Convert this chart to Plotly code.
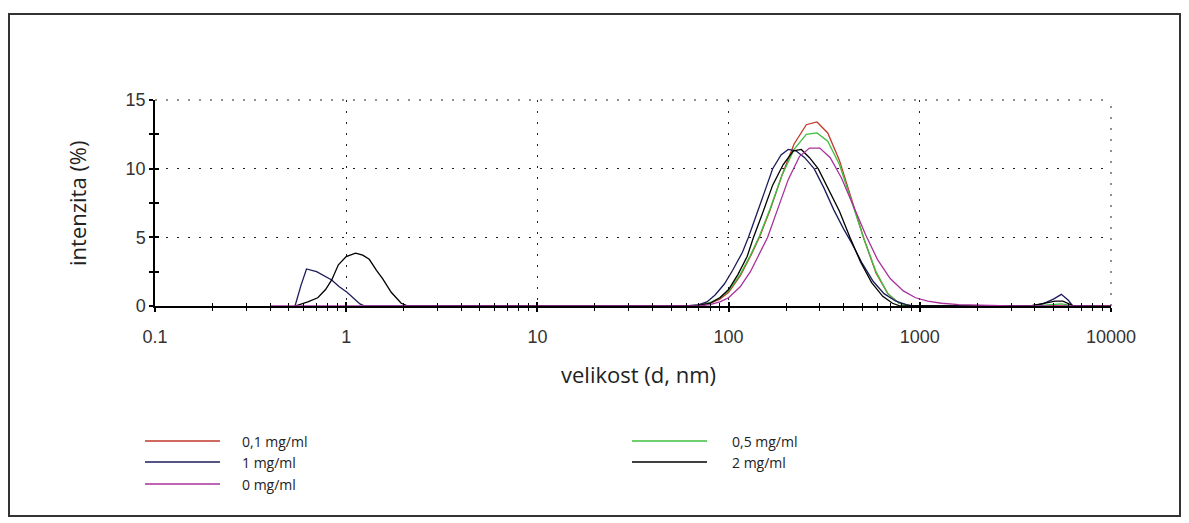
import plotly.graph_objects as go

# Size distribution by intensity (DLS), one trace per concentration
size_01 = [37, 60, 70, 80, 90, 100, 115, 130, 145, 165, 190, 220, 255, 290, 330, 380,
           440, 510, 590, 680, 780, 900, 10000]
int_01 = [0, 0, 0.05, 0.2, 0.5, 1.0, 2.2, 3.6, 5.0, 7.0, 9.5, 11.8, 13.2, 13.4, 12.6, 10.6,
          7.8, 4.9, 2.4, 0.9, 0.2, 0, 0]

size_05 = [37, 70, 80, 90, 100, 115, 130, 145, 165, 190, 220, 255, 290, 330, 380, 440,
           510, 590, 680, 780, 880, 4000, 4800, 5500, 6200, 6800, 10000]
int_05 = [0, 0.05, 0.25, 0.6, 1.1, 2.3, 3.7, 5.1, 7.1, 9.5, 11.4, 12.5, 12.6, 12.0, 10.3, 7.6,
          4.9, 2.5, 0.9, 0.2, 0, 0, 0.1, 0.15, 0.05, 0, 0]

size_1 = [0.54, 0.58, 0.62, 0.70, 0.84, 0.92, 1.01, 1.10, 1.18, 1.25,
          60, 70, 77, 85, 95, 105, 118, 127, 140, 155, 170, 188, 205, 225, 250, 280, 315,
          355, 400, 440, 500, 570, 650, 750, 850, 920, 3800, 4400, 5000, 5500, 6000, 6300, 10000]
int_1 = [0, 1.5, 2.7, 2.5, 1.9, 1.4, 1.0, 0.5, 0.15, 0,
         0, 0.1, 0.3, 0.8, 1.6, 2.6, 3.9, 5.0, 6.6, 8.4, 10.0, 11.0, 11.4, 11.3, 10.8, 10.0, 8.6,
         7.0, 5.6, 4.6, 3.1, 1.8, 0.9, 0.35, 0.1, 0, 0, 0.15, 0.5, 0.85, 0.4, 0, 0]

size_0 = [0.4, 37, 70, 80, 90, 100, 115, 130, 145, 160, 180, 205, 235, 265, 300, 340, 390,
          450, 520, 600, 700, 820, 950, 1100, 1300, 1600, 2000, 3000, 10000]
int_0 = [0, 0, 0, 0.1, 0.3, 0.6, 1.4, 2.5, 3.8, 5.0, 7.0, 9.2, 10.9, 11.5, 11.5, 10.8, 9.3,
         7.3, 5.2, 3.4, 2.0, 1.1, 0.6, 0.35, 0.2, 0.1, 0.05, 0, 0]

size_2 = [0.54, 0.63, 0.71, 0.78, 0.84, 0.91, 1.0, 1.12, 1.22, 1.32, 1.44, 1.55, 1.72, 1.94, 2.1,
          55, 70, 80, 90, 100, 112, 125, 135, 150, 170, 193, 218, 240, 265, 294, 330, 380,
          431, 490, 560, 640, 720, 790, 3800, 4500, 5100, 5600, 6100, 6400, 10000]
int_2 = [0, 0.3, 0.6, 1.2, 1.9, 3.0, 3.6, 3.85, 3.7, 3.4, 2.6, 2.0, 1.0, 0.2, 0,
         0, 0.05, 0.2, 0.6, 1.2, 2.3, 3.6, 5.0, 6.7, 8.8, 10.3, 11.3, 11.4, 10.8, 10.0, 8.6, 6.9,
         5.0, 3.2, 1.7, 0.7, 0.2, 0, 0, 0.2, 0.35, 0.35, 0.1, 0, 0]

labels = ["0,1 mg/ml", "1 mg/ml", "0 mg/ml", "0,5 mg/ml", "2 mg/ml"]
colors = ["#c0392b", "#1c1c5a", "#a8309c", "#3fbf3f", "#000000"]
series = [(size_01, int_01), (size_1, int_1), (size_0, int_0), (size_05, int_05), (size_2, int_2)]

x_tick_vals = [0.1, 1, 10, 100, 1000, 10000]
x_tick_text = ["0.1", "1", "10", "100", "1000", "10000"]
y_tick_vals = [0, 5, 10, 15]

W, H = 1189, 523
L, R, T, B = 155, 1111, 100, 306  # plot area in pixels


def px(x):
    return (x - L) / (R - L)


def py(y):
    return (B - y) / (B - T)


fig = go.Figure()
draw_order = [0, 3, 1, 4, 2]
for i in draw_order:
    xs, ys = series[i]
    fig.add_trace(go.Scatter(x=xs, y=ys, mode="lines", name=labels[i],
                             line=dict(color=colors[i], width=1.3), showlegend=False))

tick_font = dict(family="Arial", size=18, color="#333333")
grid = dict(showgrid=True, gridcolor="#222222", gridwidth=1, griddash="2px,9px")

fig.update_layout(
    width=W, height=H,
    margin=dict(l=L, r=W - R, t=T, b=H - B),
    paper_bgcolor="white", plot_bgcolor="white",
    xaxis=dict(type="log", range=[-1, 4], tickmode="array", tickvals=x_tick_vals,
               ticktext=x_tick_text, ticks="outside", ticklen=4, tickwidth=1.5,
               tickcolor="#000", showline=True, linecolor="#000", linewidth=1.5,
               tickfont=tick_font, ticklabelstandoff=10, zeroline=False,
               minor=dict(dtick="D1", ticks="outside", ticklen=3, tickcolor="#000",
                          tickwidth=1.2, showgrid=False),
               **grid),
    yaxis=dict(range=[0, 15], tickmode="array", tickvals=y_tick_vals, ticks="outside",
               ticklen=4, tickwidth=1.5, tickcolor="#000", showline=True, linecolor="#000",
               linewidth=1.5, tickfont=tick_font, zeroline=False,
               minor=dict(dtick=2.5, ticks="outside", ticklen=4, tickcolor="#000",
                          tickwidth=1.5, showgrid=False),
               **grid),
    xaxis2=dict(type="log", range=[-1, 4], overlaying="x", anchor="y", side="bottom",
                tickmode="array", tickvals=x_tick_vals, ticks="inside", ticklen=4,
                tickwidth=1.5, tickcolor="#000", showticklabels=False, showgrid=False,
                showline=False, zeroline=False,
                minor=dict(dtick="D1", ticks="inside", ticklen=3, tickcolor="#000",
                           tickwidth=1.2, showgrid=False)),
    yaxis2=dict(range=[0, 15], overlaying="y", anchor="x", side="left",
                tickmode="array", tickvals=y_tick_vals, ticks="inside", ticklen=4,
                tickwidth=1.5, tickcolor="#000", showticklabels=False, showgrid=False,
                showline=False, zeroline=False,
                minor=dict(dtick=2.5, ticks="inside", ticklen=4, tickcolor="#000",
                           tickwidth=1.5, showgrid=False)),
)

# invisible trace so the overlay axes are drawn
fig.add_trace(go.Scatter(x=[1], y=[0], xaxis="x2", yaxis="y2", mode="lines",
                         line=dict(width=0), showlegend=False, hoverinfo="skip"))

shapes = []
# outer frame
shapes.append(dict(type="rect", xref="paper", yref="paper", x0=px(9), x1=px(1180),
                   y0=py(14), y1=py(516), line=dict(color="#333333", width=2)))
# dotted top and right edges of the plot area
shapes.append(dict(type="line", xref="paper", yref="paper", x0=0, x1=1, y0=1, y1=1,
                   line=dict(color="#222222", width=1, dash="2px,9px")))
shapes.append(dict(type="line", xref="paper", yref="paper", x0=1, x1=1, y0=0, y1=1,
                   line=dict(color="#222222", width=1, dash="2px,9px")))

annotations = [
    dict(text="intenzita (%)", xref="paper", yref="paper", x=px(77), y=py(203),
         textangle=-90, showarrow=False, xanchor="center", yanchor="middle",
         font=dict(family="Open Sans", size=22, color="#222222")),
    dict(text="velikost (d, nm)", xref="paper", yref="paper", x=px(638), y=py(374),
         showarrow=False, xanchor="center", yanchor="middle",
         font=dict(family="Open Sans", size=22, color="#222222")),
]

# legend: two columns drawn with line samples and labels
legend_rows = [441, 462, 484]
legend_pos = [(145, 220, 240, legend_rows[0]), (145, 220, 240, legend_rows[1]),
              (145, 220, 240, legend_rows[2]), (632, 707, 730, legend_rows[0]),
              (632, 707, 730, legend_rows[1])]
for i, (x0, x1, xt, yy) in enumerate(legend_pos):
    shapes.append(dict(type="line", xref="paper", yref="paper", x0=px(x0), x1=px(x1),
                       y0=py(yy), y1=py(yy), line=dict(color=colors[i], width=1.3)))
    annotations.append(dict(text=labels[i], xref="paper", yref="paper", x=px(xt), y=py(yy),
                            showarrow=False, xanchor="left", yanchor="middle",
                            font=dict(family="Open Sans", size=14, color="#222222")))

fig.update_layout(shapes=shapes, annotations=annotations)
fig.write_html("out.html")
